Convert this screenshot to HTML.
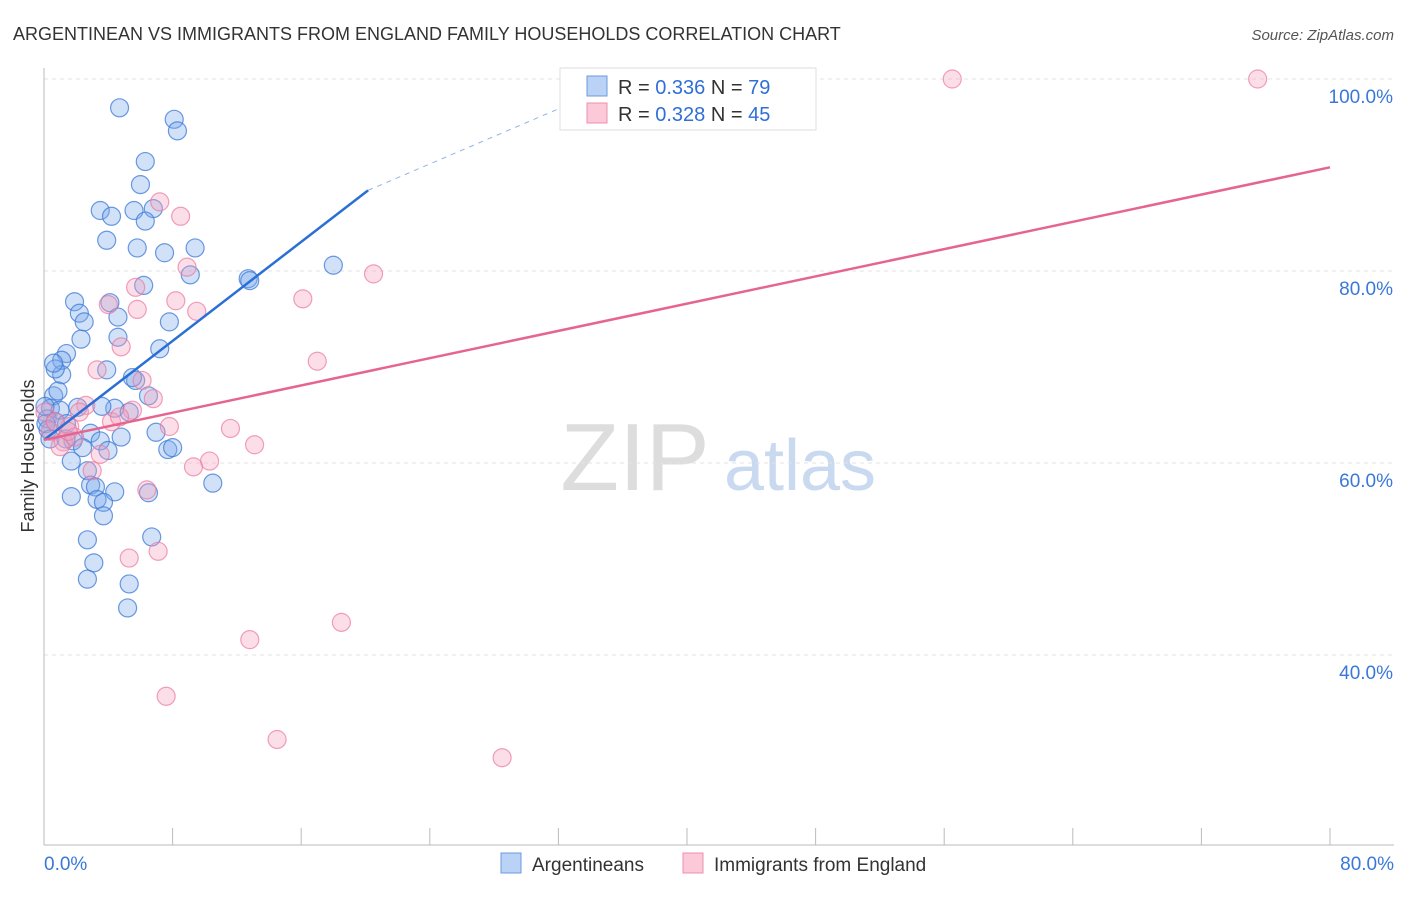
<!DOCTYPE html>
<html><head><meta charset="utf-8"><style>
body{margin:0;background:#fff;font-family:"Liberation Sans",sans-serif}
svg text{font-family:"Liberation Sans",sans-serif}
</style></head><body>
<svg id="chart" width="1406" height="892" viewBox="0 0 1406 892">
<text x="13" y="40" font-size="18" fill="#333">ARGENTINEAN VS IMMIGRANTS FROM ENGLAND FAMILY HOUSEHOLDS CORRELATION CHART</text>
<text x="1394" y="40" font-size="15" fill="#555" text-anchor="end" font-style="italic">Source: ZipAtlas.com</text>
<text transform="translate(34,456) rotate(-90)" font-size="18" fill="#333" text-anchor="middle">Family Households</text>
<g>
<text x="635" y="490" font-size="96" fill="#ddd" font-family="Liberation Serif" text-anchor="middle">ZIP</text>
<text x="800" y="490" font-size="72" fill="#c9d9f0" text-anchor="middle">atlas</text>
</g>
<g id="grid"></g><g id="axes"></g><g id="pts"></g><g id="lines"></g>
<g>
<rect x="560" y="68" width="256" height="62" fill="#fff" stroke="#ddd"/>
<rect x="587" y="76" width="20" height="20" fill="#b9d2f5" stroke="#6a9be0"/>
<text x="618" y="94" font-size="20" fill="#333">R = <tspan fill="#2f6fd6">0.336</tspan>   N = <tspan fill="#2f6fd6">79</tspan></text>
<rect x="587" y="103" width="20" height="20" fill="#fbc9d8" stroke="#ee8fae"/>
<text x="618" y="121" font-size="20" fill="#333">R = <tspan fill="#2f6fd6">0.328</tspan>   N = <tspan fill="#2f6fd6">45</tspan></text>
</g>
<g>
<rect x="501" y="853" width="20" height="20" fill="#b9d2f5" stroke="#6a9be0"/>
<text x="532" y="871" font-size="19" fill="#333">Argentineans</text>
<rect x="683" y="853" width="20" height="20" fill="#fbc9d8" stroke="#ee8fae"/>
<text x="714" y="871" font-size="19" fill="#333">Immigrants from England</text>
</g>
</svg>
<script>
const yTicks=[40,60,80,100];
const yTickLabels=["40.0%","60.0%","80.0%","100.0%"];
const xTicks=[0,8,16,24,32,40,48,56,64,72,80];
const blueX=[4.7,8.1,8.3,6.3,6.0,3.5,5.6,6.8,4.2,6.3,3.9,5.8,7.5,9.4,9.1,12.7,18.0,6.2,1.9,4.1,2.2,4.6,2.5,7.8,2.3,4.6,1.4,1.1,7.2,3.9,5.7,1.1,0.7,0.6,5.5,6.5,0.6,0.4,1.0,2.1,4.4,5.3,0.2,0.7,1.4,2.9,4.8,6.97,3.5,1.8,2.4,7.7,8.0,1.7,2.7,10.5,2.9,3.2,4.4,6.5,1.7,3.3,3.7,3.7,2.7,6.7,3.1,2.7,5.3,5.2,0.25,0.12,0.37,0.06,0.87,1.37,3.6,3.98,12.8];
const blueY=[97,95.8,94.6,91.4,89,86.3,86.3,86.5,85.7,85.2,83.2,82.4,81.9,82.4,79.6,79.2,80.6,78.5,76.8,76.7,75.6,75.2,74.7,74.7,72.9,73.1,71.4,70.7,71.9,69.7,68.6,69.2,69.8,70.4,68.9,67,67,65.7,65.5,65.8,65.7,65.3,64.6,64.3,64.1,63.1,62.7,63.2,62.3,62.3,61.6,61.4,61.6,60.2,59.2,57.9,57.7,57.5,57,56.9,56.5,56.2,55.9,54.5,52,52.3,49.6,47.9,47.4,44.9,63.5,64.1,62.5,65.9,67.5,62.5,65.9,61.3,79].
map(v=>v);
const pinkX=[56.5,75.5,7.2,8.5,8.9,20.5,4.0,5.7,8.2,16.1,9.5,5.8,4.8,17.0,6.1,3.3,2.6,5.5,6.8,4.2,2.2,1.6,0.4,1.2,7.8,11.6,13.1,10.3,9.3,3.5,3.0,6.4,7.1,5.3,18.5,12.8,7.6,14.5,28.5,0.06,0.7,1.0,1.9,4.7,1.5];
const pinkY=[100,100,87.2,85.7,80.4,79.7,76.5,78.3,76.9,77.1,75.8,76.0,72.1,70.6,68.6,69.7,66.0,65.5,66.7,64.3,65.3,63.8,63.3,62.2,63.8,63.6,61.9,60.2,59.6,60.9,59.2,57.2,50.8,50.1,43.4,41.6,35.7,31.2,29.3,65.3,64.3,61.7,62.7,64.8,63.3];
const blueLine=[[0,62.4],[20.16,88.4]];
const blueDash=[[20.16,88.4],[37.6,100.9]];
const pinkLine=[[0,62.4],[80,90.8]];
const X=v=>44+v*16.075, Y=v=>79+(100-v)*9.6;
const NS="http://www.w3.org/2000/svg";
function mk(tag,attrs,parent){const e=document.createElementNS(NS,tag);for(const k in attrs)e.setAttribute(k,attrs[k]);parent.appendChild(e);return e;}
const grid=document.getElementById('grid'),axes=document.getElementById('axes'),pts=document.getElementById('pts'),lines=document.getElementById('lines');
yTicks.forEach((t,i)=>{
 const l=mk('line',{x1:44,x2:1394,y1:Y(t),y2:Y(t),stroke:'#e3e3e3','stroke-dasharray':'4,4'},grid);
 
 
 const tx=mk('text',{x:1393,y:Y(t)+24,'font-size':19,fill:'#3a78d8','text-anchor':'end'},axes);
 tx.textContent=yTickLabels[i];
 
 
});
const ax=mk('line',{x1:44,x2:1394,y1:845,y2:845,stroke:'#bbb'},axes);


const ay=mk('line',{x1:44,x2:44,y1:68,y2:845,stroke:'#bbb'},axes);


xTicks.forEach(t=>{
 const l=mk('line',{x1:X(t),x2:X(t),y1:828,y2:845,stroke:'#bbb'},axes);
 
 
});
const xl0=mk('text',{x:44,y:870,'font-size':19,fill:'#3a78d8'},axes);xl0.textContent='0.0%';


const xl1=mk('text',{x:1394,y:870,'font-size':19,fill:'#3a78d8','text-anchor':'end'},axes);xl1.textContent='80.0%';


blueX.forEach((x,i)=>{
 const c=mk('circle',{cx:X(x),cy:Y(blueY[i]),r:9,fill:'rgba(120,170,235,0.35)',stroke:'rgba(60,120,215,0.75)','stroke-width':1.2},pts);
 
 
});
pinkX.forEach((x,i)=>{
 const c=mk('circle',{cx:X(x),cy:Y(pinkY[i]),r:9,fill:'rgba(245,160,190,0.35)',stroke:'rgba(235,120,160,0.7)','stroke-width':1.2},pts);
 
 
});
const bl=mk('line',{x1:X(blueLine[0][0]),y1:Y(blueLine[0][1]),x2:X(blueLine[1][0]),y2:Y(blueLine[1][1]),stroke:'#2a6fd6','stroke-width':2.5},lines);


const bd=mk('line',{x1:X(blueDash[0][0]),y1:Y(blueDash[0][1]),x2:X(blueDash[1][0]),y2:Y(blueDash[1][1]),stroke:'#8fb3e8','stroke-width':1,'stroke-dasharray':'5,5'},lines);


const pl=mk('line',{x1:X(pinkLine[0][0]),y1:Y(pinkLine[0][1]),x2:X(pinkLine[1][0]),y2:Y(pinkLine[1][1]),stroke:'#e5658f','stroke-width':2.5},lines);


</script>
</body></html>
